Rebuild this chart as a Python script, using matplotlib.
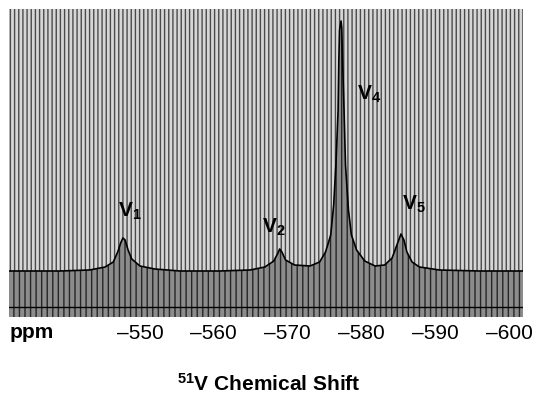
import matplotlib
matplotlib.use("Agg")
from matplotlib import pyplot as plt

# 51V NMR spectrum (ppm, intensity)
shift_ppm = [
    -532.3, -539.2, -543.2, -545.3, -546.4, -547.0, -547.4, -547.7, -548.0,
    -548.4, -548.9, -550.0, -552.0, -555.4, -560.8, -564.9, -566.9, -568.1,
    -568.6, -568.9, -569.2, -569.7, -570.9, -573.0, -574.3, -575.1, -575.8,
    -576.2, -576.5, -576.8, -576.9, -577.0, -577.2, -577.3, -577.4, -577.6,
    -577.8, -578.2, -578.6, -579.3, -580.4, -581.8, -583.1, -584.1, -584.7,
    -585.3, -585.7, -586.1, -586.8, -587.8, -590.5, -595.9, -601.8,
]
intensity = [
    36, 36, 37, 40, 45, 55, 64, 69, 67,
    57, 48, 41, 38, 36, 36, 37, 40, 46,
    53, 58, 55, 47, 42, 41, 45, 55, 72,
    102, 142, 197, 247, 277, 286, 279, 247, 197,
    142, 97, 72, 57, 46, 41, 42, 49, 61,
    73, 67, 55, 45, 40, 37, 36, 36,
]

peak_labels = ["1", "2", "4", "5"]
label_ppm = [-547.0, -566.5, -579.3, -585.4]
label_int = [90, 74, 207, 97]

tick_values = [-550, -560, -570, -580, -590, -600]

plt.rcParams["font.family"] = ["Liberation Sans", "DejaVu Sans"]
plt.rcParams["mathtext.fontset"] = "custom"
plt.rcParams["mathtext.rm"] = "Liberation Sans:bold"
plt.rcParams["mathtext.it"] = "Liberation Sans:bold"
plt.rcParams["mathtext.bf"] = "Liberation Sans:bold"
plt.rcParams["mathtext.default"] = "rm"
plt.rcParams["hatch.linewidth"] = 1.0

fig = plt.figure(figsize=(5.37, 3.95), dpi=100)
ax = fig.add_axes([9 / 537, 78 / 395, 514 / 537, 308 / 395])

y_top = 298
y_bot = -10

# striped background above and below the spectrum
ax.fill_between(shift_ppm, intensity, y_top, facecolor="#d6d6d6",
                edgecolor="#4a4a4a", hatch="||||", linewidth=0)
ax.fill_between(shift_ppm, y_bot, intensity, facecolor="#8c8c8c",
                edgecolor="#262626", hatch="|||", linewidth=0)

ax.plot(shift_ppm, intensity, color="black", linewidth=1.2)
ax.axhline(0, color="black", linewidth=1.0)

for num, px, py in zip(peak_labels, label_ppm, label_int):
    ax.text(px, py, r"$\mathrm{V}_{" + num + "}$", fontsize=15,
            ha="left", va="baseline")

ax.set_xlim(-532.3, -601.8)
ax.set_ylim(y_bot, y_top)

for s in ["top", "right", "left", "bottom"]:
    ax.spines[s].set_visible(False)

ax.set_xticks(tick_values)
ax.set_xticklabels(["\u2013" + str(abs(t)) for t in tick_values])
ax.tick_params(axis="x", length=0, pad=5, labelsize=15)
ax.set_yticks([])

fig.text(10 / 537, 1 - 332 / 395, "ppm", fontsize=15, fontweight="bold",
         ha="left", va="center")
fig.text(0.5, 1 - 384 / 395, r"$^{51}$V Chemical Shift", fontsize=15,
         fontweight="bold", ha="center", va="center")

fig.savefig("out.png", dpi=100)
